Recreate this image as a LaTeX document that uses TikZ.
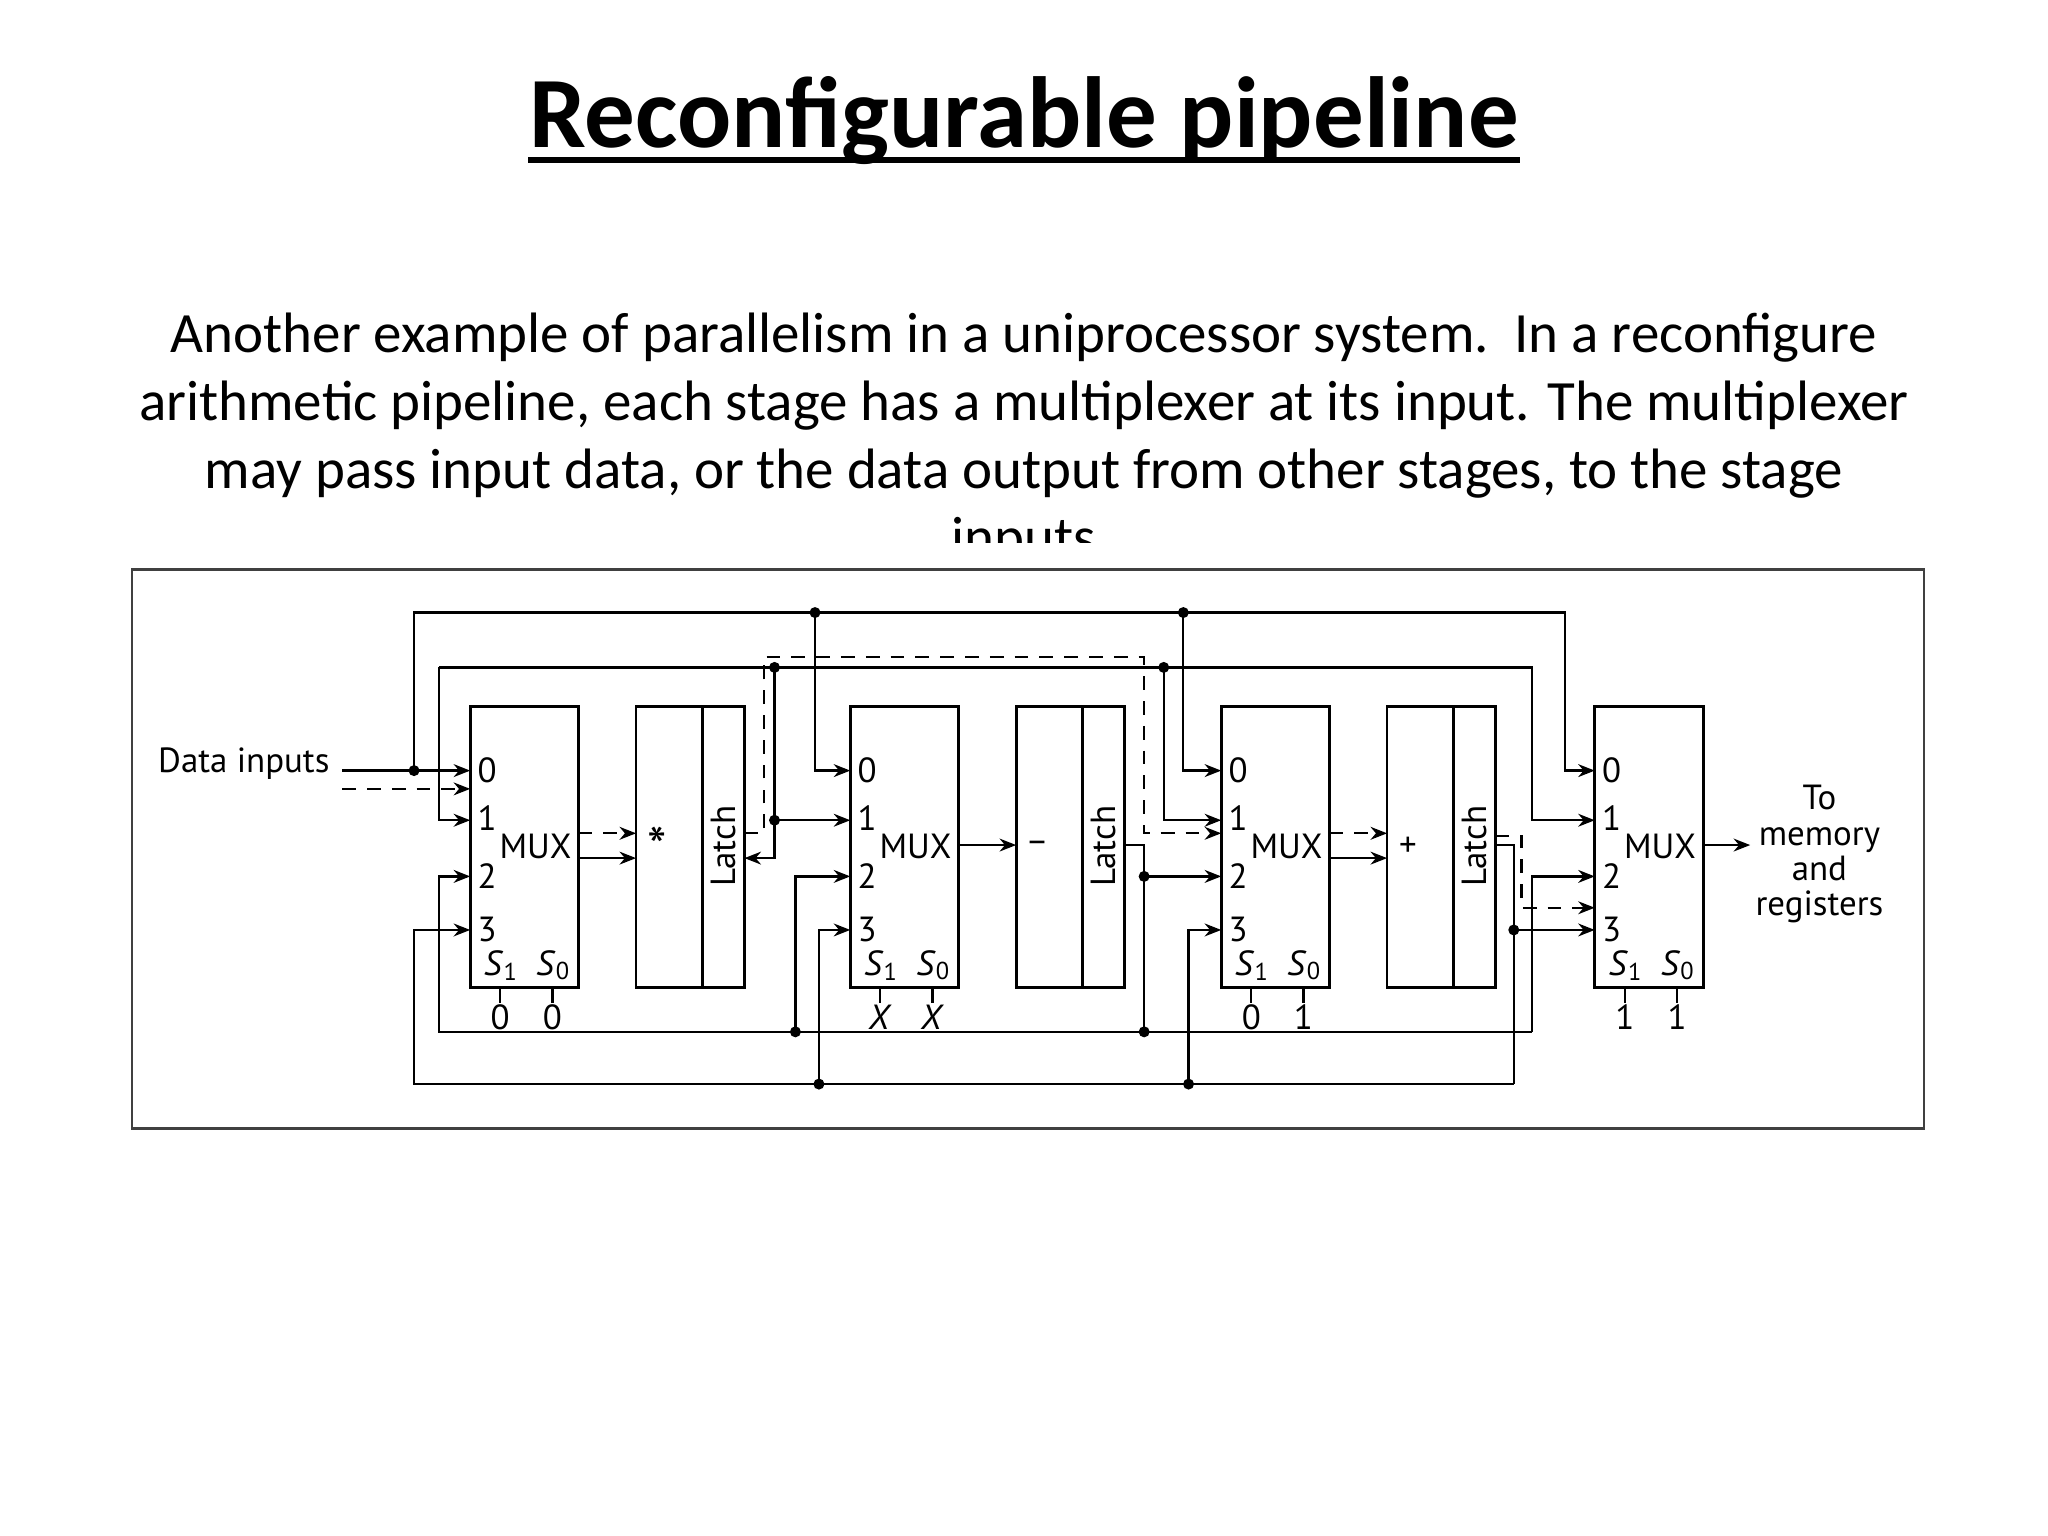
\documentclass[tikz,border=0pt]{standalone}
\usepackage{fontspec}
\setmainfont{Carlito}
\newfontfamily\dfont{PT Sans}
\usetikzlibrary{arrows.meta}
\begin{document}
\begin{tikzpicture}[x=0.01cm,y=-0.01cm,
  wire/.style={line width=0.5pt},
  dwire/.style={wire,dash pattern=on 3pt off 2.4pt},
  arr/.style={-{Stealth[length=3.6pt,width=2.8pt]}},
  dot/.style={circle,fill,inner sep=0pt,minimum size=2.4pt},
  blk/.style={draw,line width=0.6pt,minimum width=0.83cm,minimum height=2.15cm,inner sep=0pt},
  lbl/.style={font=\dfont\fontsize{7.6}{9}\selectfont,inner sep=0pt}]
\useasboundingbox (0,0) rectangle (1568,1176);

% title and text
\node[font=\bfseries\fontsize{22}{26}\selectfont,inner sep=0pt] (title) at (784,92) {Reconfigurable pipeline};
\draw[line width=1.3pt] ([yshift=-0.1cm]title.base west) -- ([yshift=-0.1cm]title.base east);
\begin{scope}
  \clip (0,0) rectangle (1568,415);
  \node[align=center,font=\fontsize{12.4}{14.8}\selectfont] (para) at (784,336)
    {Another example of parallelism in a uniprocessor system.\ \ In a reconfigure\\
     arithmetic pipeline, each stage has a multiplexer at its input. The multiplexer\\
     may pass input data, or the data output from other stages, to the stage\\
     inputs};
\end{scope}

% frame
\draw[line width=0.6pt,black!75] (101,436) rectangle (1473,864);

% multiplexers
\foreach \L/\n/\a/\b in {360/1/0/0, 651/2/\textit{X}/\textit{X}, 935/3/0/1, 1221/4/1/1}{
  \node[blk] (mux\n) at (\L+41.5,648.5) {};
  \foreach \r/\t in {590/0, 626/1, 671/2, 712/3}
    \node[lbl,anchor=west] at (\L+5,\r) {\t};
  \node[lbl] at (\L+50,648) {MUX};
  \node[lbl] at (\L+24,739) {\textit{S}\textsubscript{1}};
  \node[lbl] at (\L+64,739) {\textit{S}\textsubscript{0}};
  \draw[wire] (\L+23,756) -- (\L+23,768) (\L+63,756) -- (\L+63,768);
  \node[lbl] at (\L+23,779) {\a};
  \node[lbl] at (\L+63,779) {\b};
}

% stages with latches
\foreach \P/\n/\op in {487/1/{\large*}, 778/2/–, 1062/3/+}{
  \node[blk] (stg\n) at (\P+41.5,648.5) {};
  \draw[line width=0.6pt] (\P+51,541) -- (\P+51,756);
  \node[lbl] at (\P+16,648) {\op};
  \node[lbl,rotate=90] at (\P+67,648) {Latch};
}

% data inputs
\node[lbl,anchor=east] (din) at (253,585) {Data inputs};
\draw[wire,arr] (262,590) -- (360,590);
\draw[dwire,arr] (262,604) -- (360,604);

% bus A: data inputs to all port 0
\draw[wire,arr] (317,590) -- (317,469) -- (1198,469) -- (1198,590) -- (1221,590);
\draw[wire,arr] (624,469) -- (624,590) -- (651,590);
\draw[wire,arr] (906,469) -- (906,590) -- (935,590);
\node[dot] at (317,590) {}; \node[dot] at (624,469) {}; \node[dot] at (906,469) {};

% bus B: stage 1 latch to port 1
\draw[wire,arr] (336,511) -- (336,628) -- (360,628);
\draw[wire,arr] (336,511) -- (1173,511) -- (1173,628) -- (1221,628);
\draw[wire,arr] (593,511) -- (593,628) -- (651,628);
\draw[wire,arr] (593,628) -- (593,657) -- (570,657);
\draw[wire,arr] (891,511) -- (891,628) -- (935,628);
\node[dot] at (593,511) {}; \node[dot] at (593,628) {}; \node[dot] at (891,511) {};

% dashed path
\draw[dwire,arr] (570,638) -- (585,638) -- (585,503) -- (876,503) -- (876,638) -- (935,638);
\draw[dwire,arr] (443,638) -- (487,638);
\draw[wire,arr] (443,657) -- (487,657);
\draw[wire,arr] (734,647) -- (778,647);
\draw[dwire,arr] (1018,638) -- (1062,638);
\draw[wire,arr] (1018,657) -- (1062,657);

% bus C: stage 2 latch to port 2
\draw[wire,arr] (861,647) -- (876,647) -- (876,671) -- (935,671);
\draw[wire] (876,671) -- (876,790);
\draw[wire,arr] (1173,790) -- (336,790) -- (336,671) -- (360,671);
\draw[wire,arr] (1173,790) -- (1173,671) -- (1221,671);
\draw[wire,arr] (609,790) -- (609,671) -- (651,671);
\node[dot] at (876,671) {}; \node[dot] at (876,790) {}; \node[dot] at (609,790) {};

% bus D: stage 3 latch to port 3
\draw[wire,arr] (1145,647) -- (1159,647) -- (1159,712) -- (1221,712);
\draw[wire] (1159,712) -- (1159,830);
\draw[wire,arr] (1159,830) -- (317,830) -- (317,712) -- (360,712);
\draw[wire,arr] (627,830) -- (627,712) -- (651,712);
\draw[wire,arr] (910,830) -- (910,712) -- (935,712);
\node[dot] at (1159,712) {}; \node[dot] at (627,830) {}; \node[dot] at (910,830) {};
\draw[dwire,arr] (1145,640) -- (1165,640) -- (1165,695) -- (1221,695);

% output
\node[lbl,align=center,font=\dfont\fontsize{7.6}{7.7}\selectfont] (out) at (1393,654)
  {To\\memory\\and\\registers};
\draw[wire,arr] (1304,647) -- (1340,647);
\end{tikzpicture}
\end{document}
